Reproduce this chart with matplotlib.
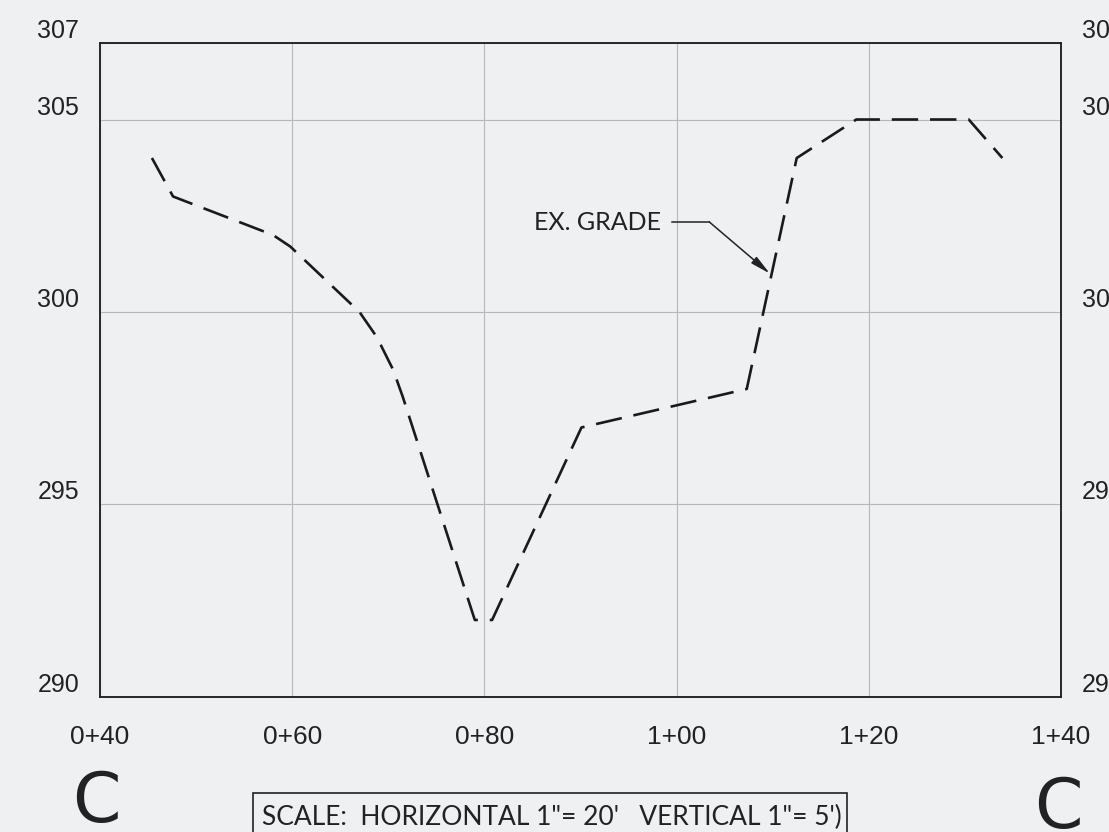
#Existing grade profile, section C-C
import matplotlib.pyplot as plt
from matplotlib.patches import Rectangle

#profile points (station in ft, elevation in ft)
station = [45.4, 47.6, 58.0, 59.8, 67.0, 68.8, 70.5, 71.5, 79.0, 80.8, 90.1, 107.3, 112.5, 118.7, 130.4, 133.9]
elevation = [304.0, 303.0, 302.0, 301.7, 300.0, 299.35, 298.5, 297.8, 292.0, 292.0, 297.0, 298.0, 304.0, 305.0, 305.0, 304.0]

#axis ticks and labels
x_ticks = [40, 60, 80, 100, 120, 140]
x_labels = ["0+40", "0+60", "0+80", "1+00", "1+20", "1+40"]
y_ticks = [290, 295, 300, 305, 307]
y_labels = ["290", "295", "300", "305", "307"]

bg = "#eef0f2"
fig = plt.figure(figsize=(11.09, 8.32), dpi=100)
fig.patch.set_facecolor(bg)
ax = fig.add_axes([0.0902, 0.1623, 0.8665, 0.7866])
ax.set_facecolor(bg)

#grade line
ax.plot(station, elevation, color="#1a1a1a", lw=1.9, dashes=(10, 4.5))

ax.set_xlim(40, 140)
ax.set_ylim(290, 307)
ax.set_xticks(x_ticks)
ax.set_xticklabels(x_labels)
ax.set_yticks(y_ticks)
ax.set_yticklabels(y_labels)
ax.grid(True, color="#b8b8b8", lw=0.8)
ax.set_axisbelow(True)

tick_font = {"family": "Liberation Sans", "size": 18, "color": "#222222"}
ax.tick_params(axis="x", length=0, pad=20)
ax.tick_params(axis="y", length=0, pad=15)
for lab in ax.get_xticklabels() + ax.get_yticklabels():
    lab.set_fontfamily(tick_font["family"])
    lab.set_fontsize(tick_font["size"])
    lab.set_color(tick_font["color"])
for lab in ax.get_xticklabels():
    lab.set_fontsize(19)
for lab in ax.get_yticklabels():
    lab.set_va("bottom")

#right side labels (cut off by the page edge, as on the sheet)
ax2 = ax.twinx()
ax2.set_ylim(290, 307)
ax2.set_yticks(y_ticks)
ax2.set_yticklabels(y_labels)
ax2.tick_params(axis="y", length=0, pad=15)
for lab in ax2.get_yticklabels():
    lab.set_fontfamily(tick_font["family"])
    lab.set_fontsize(tick_font["size"])
    lab.set_color(tick_font["color"])
    lab.set_va("bottom")

for a in (ax, ax2):
    for s in a.spines.values():
        s.set_color("#222222")
        s.set_linewidth(1.1)

#leader note
ax.plot([99.5, 103.4], [302.34, 302.34], color="#222222", lw=1.1)
ax.annotate("", xy=(109.7, 301.0), xytext=(103.4, 302.34),
            arrowprops=dict(arrowstyle="-|>,head_length=1.2,head_width=0.25",
                            color="#222222", lw=1.1, shrinkA=0, shrinkB=0))
ax.text(98.4, 302.12, "EX. GRADE", ha="right", va="baseline",
        fontsize=18, family="Lato", color="#222222")

#section letters
fig.text(72 / 1109, 1 - 769 / 832, "C", ha="left", va="top", fontsize=50,
         family="DejaVu Sans", color="#222222")
fig.text(1034 / 1109, 1 - 775 / 832, "C", ha="left", va="top", fontsize=50,
         family="DejaVu Sans", color="#222222")

#scale box
fig.add_artist(Rectangle((253 / 1109, -0.05), (847 - 253) / 1109, 1 - 793 / 832 + 0.05,
                         transform=fig.transFigure, fill=False, ec="#222222", lw=1.2))
fig.text(262 / 1109, 1 - 825 / 832, "SCALE:  HORIZONTAL 1\"= 20'   VERTICAL 1\"= 5')",
         ha="left", va="baseline", fontsize=19, family="Lato", color="#222222")

fig.savefig("out.png", dpi=100, facecolor=bg)
